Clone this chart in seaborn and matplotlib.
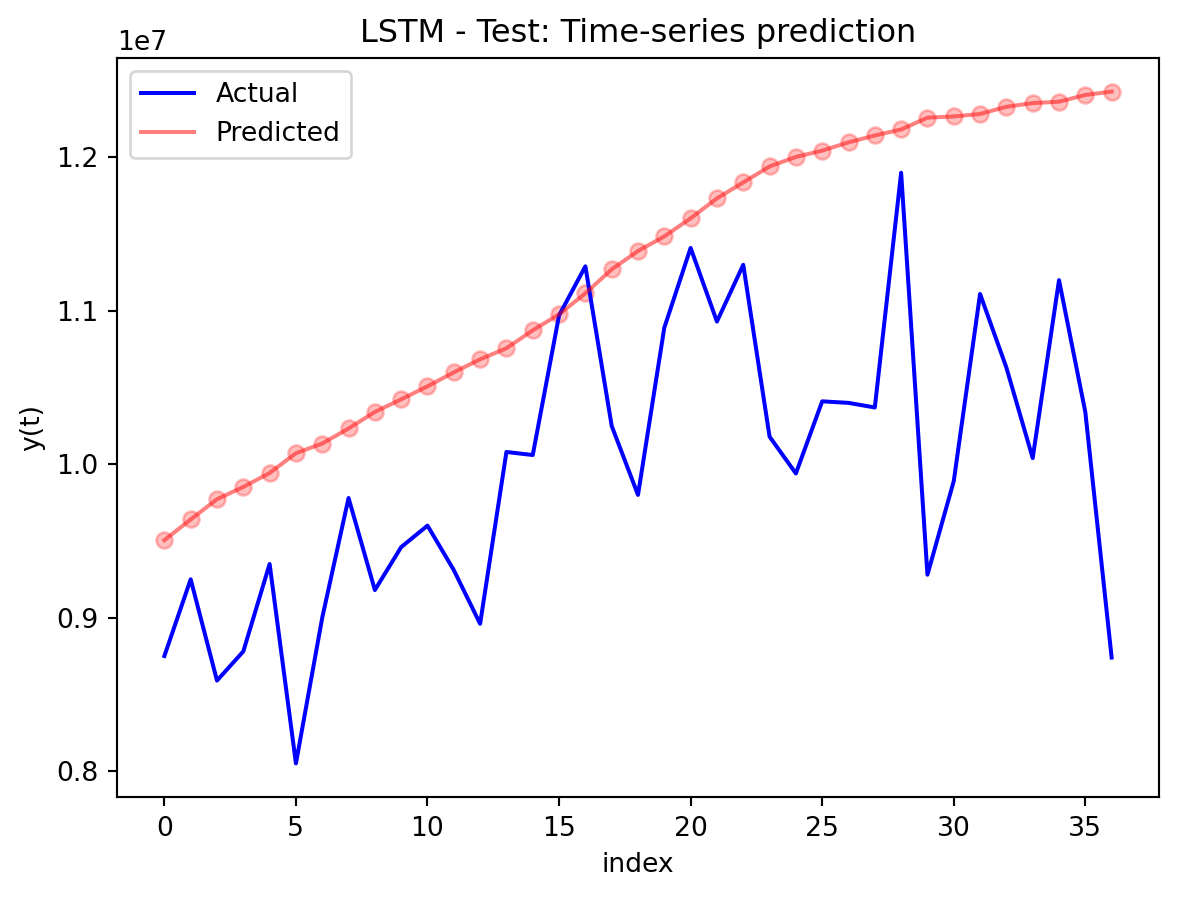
import matplotlib
matplotlib.use("Agg")
import matplotlib.pyplot as plt
import seaborn as sns
import numpy as np

index = list(range(37))
actual = [8.75e6, 9.25e6, 8.59e6, 8.78e6, 9.35e6, 8.05e6, 9.00e6, 9.78e6, 9.18e6, 9.46e6,
          9.60e6, 9.31e6, 8.96e6, 10.08e6, 10.06e6, 10.97e6, 11.29e6, 10.25e6, 9.80e6, 10.89e6,
          11.41e6, 10.93e6, 11.30e6, 10.18e6, 9.94e6, 10.41e6, 10.40e6, 10.37e6, 11.90e6, 9.28e6,
          9.89e6, 11.11e6, 10.63e6, 10.04e6, 11.20e6, 10.34e6, 8.74e6]
predicted = [9.505e6, 9.64e6, 9.772e6, 9.852e6, 9.943e6, 10.072e6, 10.135e6, 10.233e6, 10.341e6, 10.423e6,
             10.508e6, 10.599e6, 10.684e6, 10.756e6, 10.873e6, 10.977e6, 11.114e6, 11.27e6, 11.39e6, 11.485e6,
             11.603e6, 11.733e6, 11.837e6, 11.941e6, 12.003e6, 12.044e6, 12.098e6, 12.143e6, 12.182e6, 12.259e6,
             12.267e6, 12.283e6, 12.330e6, 12.354e6, 12.363e6, 12.407e6, 12.429e6]

dpi = 192
fig, ax = plt.subplots(figsize=(1177 / dpi, 898 / dpi), dpi=dpi)
fig.subplots_adjust(left=117 / 1177, right=1159 / 1177, top=1 - 58 / 898, bottom=1 - 797 / 898)

sns.lineplot(x=index, y=actual, color="blue", label="Actual", ax=ax, linewidth=1.5)
sns.lineplot(x=index, y=predicted, color="red", alpha=0.5, label="Predicted", ax=ax, linewidth=1.5)
sns.scatterplot(x=index, y=predicted, color="red", alpha=0.25, s=36, edgecolor="red",
                linewidth=1.0, ax=ax, legend=False)

ax.set_title("LSTM - Test: Time-series prediction", fontsize=12)
ax.set_xlabel("index")
ax.set_ylabel("y(t)")
ax.set_xticks(range(0, 36, 5))
ax.legend(loc="upper left")

fig.savefig("out.png", dpi=dpi)
